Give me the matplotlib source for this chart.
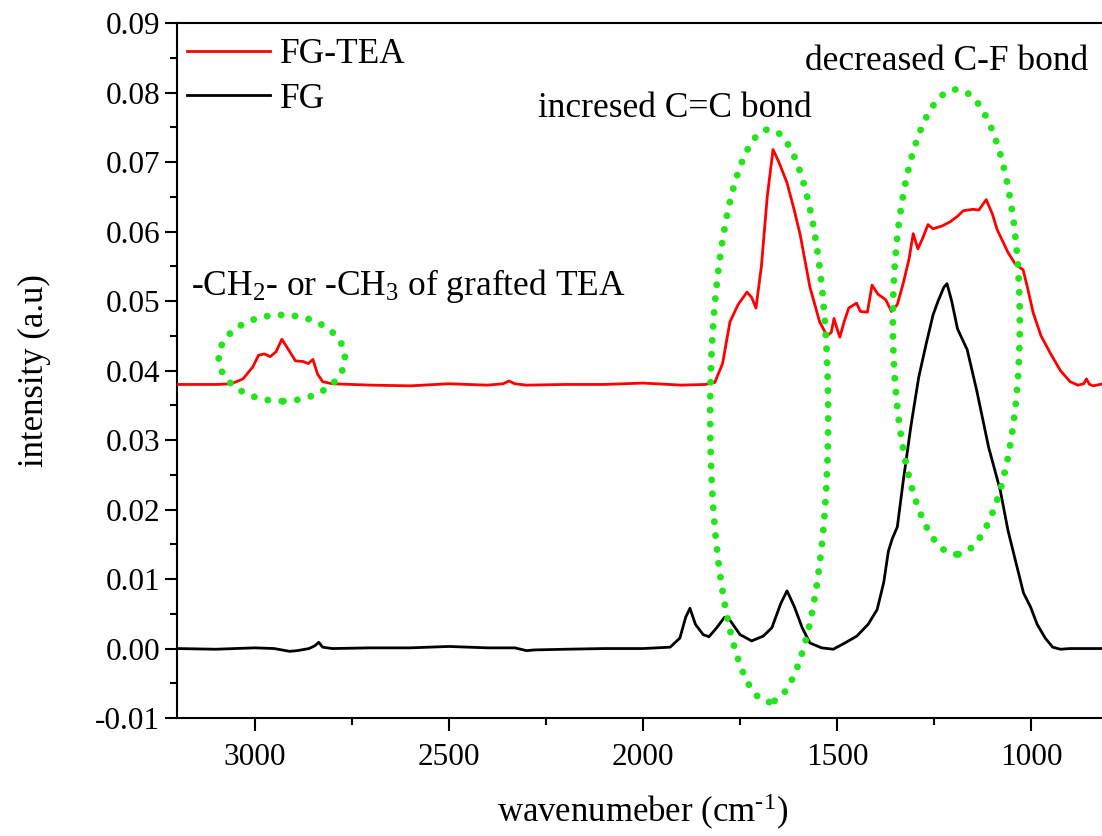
import matplotlib
matplotlib.use("Agg")
import matplotlib.pyplot as plt
from matplotlib.patches import Ellipse
import numpy as np

# FG-TEA spectrum (red)
wn_tea = [3200, 3100, 3060, 3030, 3005, 2990, 2975, 2960, 2945, 2930, 2915, 2895, 2875, 2862,
          2850, 2838, 2825, 2800, 2700, 2600, 2500, 2400, 2360, 2345, 2330, 2300, 2200, 2100,
          2000, 1900, 1840, 1815, 1795, 1776, 1755, 1732, 1720, 1709, 1695, 1680, 1665, 1650,
          1629, 1610, 1595, 1570, 1545, 1526, 1515, 1508, 1500, 1493, 1482, 1470, 1450, 1440,
          1422, 1410, 1395, 1375, 1360, 1345, 1330, 1315, 1304, 1292, 1280, 1266, 1253, 1230,
          1209, 1190, 1175, 1150, 1135, 1116, 1100, 1088, 1060, 1041, 1021, 1010, 995, 975,
          951, 925, 900, 880, 865, 858, 850, 840, 815, 800]
int_tea = [0.0380, 0.0380, 0.0381, 0.0388, 0.0405, 0.0422, 0.0424, 0.0420, 0.0427, 0.0445,
           0.0432, 0.0414, 0.0413, 0.0410, 0.0416, 0.0395, 0.0384, 0.0381, 0.0379, 0.0378,
           0.0381, 0.0379, 0.0381, 0.0385, 0.0381, 0.0379, 0.0380, 0.0380, 0.0382, 0.0379,
           0.0380, 0.0383, 0.0410, 0.0470, 0.0495, 0.0513, 0.0505, 0.0490, 0.0550, 0.0650,
           0.0718, 0.0700, 0.0670, 0.0630, 0.0595, 0.0520, 0.0470, 0.0450, 0.0455, 0.0475,
           0.0460, 0.0448, 0.0470, 0.0490, 0.0497, 0.0485, 0.0484, 0.0523, 0.0510, 0.0502,
           0.0485, 0.0495, 0.0525, 0.0560, 0.0597, 0.0575, 0.0590, 0.0610, 0.0604, 0.0608,
           0.0614, 0.0622, 0.0630, 0.0632, 0.0631, 0.0646, 0.0625, 0.0603, 0.0570, 0.0553,
           0.0545, 0.0520, 0.0483, 0.0450, 0.0425, 0.0400, 0.0384, 0.0379, 0.0381, 0.0388,
           0.0380, 0.0378, 0.0381, 0.0384]

# FG spectrum (black)
wn_fg = [3200, 3100, 3000, 2950, 2910, 2890, 2860, 2845, 2835, 2825, 2800, 2700, 2600, 2500,
         2400, 2330, 2300, 2280, 2200, 2100, 2000, 1930, 1905, 1890, 1879, 1865, 1845, 1830,
         1810, 1790, 1775, 1750, 1720, 1690, 1668, 1645, 1629, 1610, 1590, 1570, 1540, 1510,
         1480, 1449, 1420, 1397, 1380, 1368, 1358, 1345, 1330, 1310, 1290, 1270, 1253, 1240,
         1225, 1217, 1205, 1190, 1165, 1140, 1110, 1080, 1060, 1041, 1020, 1002, 985, 964,
         945, 925, 900, 850, 800]
int_fg = [0.0000, -0.0001, 0.0001, 0.0000, -0.0004, -0.0003, 0.0000, 0.0004, 0.0009, 0.0002,
          0.0000, 0.0001, 0.0001, 0.0003, 0.0001, 0.0001, -0.0003, -0.0002, -0.0001, 0.0000,
          0.0000, 0.0002, 0.0015, 0.0045, 0.0058, 0.0035, 0.0020, 0.0017, 0.0030, 0.0045,
          0.0040, 0.0020, 0.0011, 0.0018, 0.0030, 0.0065, 0.0083, 0.0060, 0.0030, 0.0008,
          0.0001, -0.0001, 0.0008, 0.0018, 0.0035, 0.0056, 0.0095, 0.0140, 0.0158, 0.0175,
          0.0240, 0.0320, 0.0390, 0.0440, 0.0480, 0.0500, 0.0520, 0.0525, 0.0500, 0.0460,
          0.0430, 0.0370, 0.0290, 0.0228, 0.0170, 0.0127, 0.0080, 0.0060, 0.0035, 0.0015,
          0.0002, -0.0001, 0.0000, 0.0000, 0.0000]

# highlighted regions: (center wn, center intensity, width, height)
marks = [(2930, 0.0418, 325, 0.0124),
         (1675, 0.0335, 304, 0.0824),
         (1193, 0.0470, 327, 0.0669)]

plt.rcParams['font.family'] = ['Liberation Serif', 'DejaVu Serif']
plt.rcParams['mathtext.fontset'] = 'custom'
plt.rcParams['mathtext.rm'] = 'Liberation Serif'
plt.rcParams['mathtext.default'] = 'regular'

fig = plt.figure(figsize=(11.02, 8.36), dpi=100)
ax = fig.add_axes([0.1606, 0.1411, 0.8457, 0.8313])

ax.plot(wn_tea, int_tea, color='#ff0000', lw=2.0, label='FG-TEA', zorder=3)
ax.plot(wn_fg, int_fg, color='black', lw=2.0, label='FG', zorder=3)

for cx, cy, w, h in marks:
    e = Ellipse((cx, cy), w, h, fill=False, edgecolor='#22e51a', lw=5,
                linestyle=(0, (0.01, 2.0)), capstyle='round', zorder=4)
    ax.add_patch(e)

ax.text(3165, 0.0509, '-CH$_2$- or -CH$_3$ of grafted TEA', fontsize=25.5, va='baseline')
ax.text(2271, 0.0765, 'incresed C=C bond', fontsize=25.5, va='baseline')
ax.text(1583, 0.0832, 'decreased C-F bond', fontsize=25.5, va='baseline')

ax.set_xticks([3000, 2500, 2000, 1500, 1000])
ax.set_xticks(np.arange(3000, 799, -250), minor=True)
ax.set_yticks(np.arange(-0.01, 0.0901, 0.01))
ax.set_yticks(np.arange(-0.01, 0.0901, 0.005), minor=True)
ax.set_xlim(3200, 800)
ax.set_ylim(-0.01, 0.09)
ax.yaxis.set_major_formatter(plt.FormatStrFormatter('%.2f'))
ax.tick_params(which='major', direction='out', length=9, width=1.5, labelsize=22.5)
ax.tick_params(which='minor', direction='out', length=5, width=1.5)
ax.tick_params(axis='x', which='major', pad=9)
ax.tick_params(axis='y', which='major', pad=3)
for s in ax.spines.values():
    s.set_linewidth(1.5)

ax.set_xlabel('wavenumeber (cm$^{\u20101}$)', fontsize=25, labelpad=14)
ax.set_ylabel('intensity (a.u)', fontsize=25, labelpad=32)

ax.legend(loc='upper left', bbox_to_anchor=(10 / 932, 1 - 15 / 695), frameon=False,
          fontsize=25.5, handlelength=2.33, borderaxespad=0, borderpad=0,
          labelspacing=0.33, handletextpad=0.3)

fig.savefig('out.png', dpi=100)
